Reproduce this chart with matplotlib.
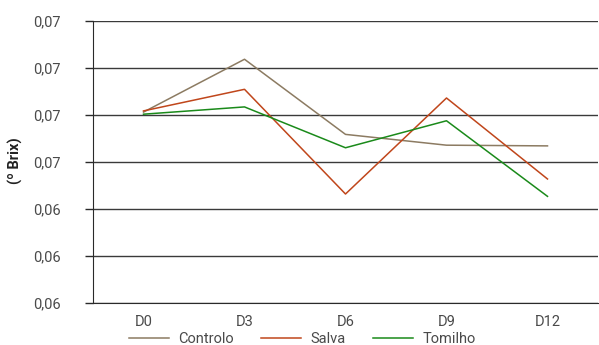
import matplotlib
matplotlib.use("Agg")
import matplotlib.pyplot as plt
from matplotlib.ticker import FuncFormatter, MultipleLocator

categories = ["D0", "D3", "D6", "D9", "D12"]
controlo = [0.06812, 0.07037, 0.06717, 0.06671, 0.06668]
salva = [0.06817, 0.06909, 0.06463, 0.06872, 0.06527]
tomilho = [0.06803, 0.06834, 0.06660, 0.06775, 0.06453]
series_names = ["Controlo", "Salva", "Tomilho"]
colors = ["#8C7B62", "#C0461B", "#1A8A1A"]

plt.rcParams["font.family"] = ["Roboto", "DejaVu Sans"]

fig = plt.figure(figsize=(5.99, 3.45), dpi=100)
ax = fig.add_axes([93/599, 1 - 302.7/345, (598 - 93)/599, (302.7 - 21)/345])

x = list(range(len(categories)))
for vals, name, c in zip([controlo, salva, tomilho], series_names, colors):
    ax.plot(x, vals, color=c, lw=1.1, label=name)

ax.set_xlim(-0.5, len(categories) - 0.5)
ax.set_ylim(0.060, 0.072)
ax.yaxis.set_major_locator(MultipleLocator(0.002))
ax.yaxis.set_major_formatter(FuncFormatter(lambda v, p: f"{v:.2f}".replace(".", ",")))
ax.set_xticks(x)
ax.set_xticklabels(categories)

ax.grid(axis="y", color="#3a3a3a", lw=1.0)
ax.set_axisbelow(True)
for s in ["top", "right"]:
    ax.spines[s].set_visible(False)
ax.spines["left"].set_color("#2a2a2a")
ax.spines["bottom"].set_color("#2a2a2a")
ax.tick_params(axis="y", length=6, width=1, color="#2a2a2a", pad=17, labelsize=10.5, labelcolor="#4a4a4a")
ax.tick_params(axis="x", length=0, pad=9, labelsize=10.5, labelcolor="#4a4a4a")

fig.text(15/599, 1 - 161/345, "(º Brix)", rotation=90, ha="center", va="center",
         fontsize=10.5, fontweight="bold", color="#222222")

leg = fig.legend(loc="center", bbox_to_anchor=(302/599, 1 - 339/345), ncol=3, frameon=False,
                 fontsize=10.5, handlelength=2.75, handletextpad=0.65, columnspacing=1.85,
                 labelcolor="#4a4a4a")

fig.savefig("out.png", dpi=100)
